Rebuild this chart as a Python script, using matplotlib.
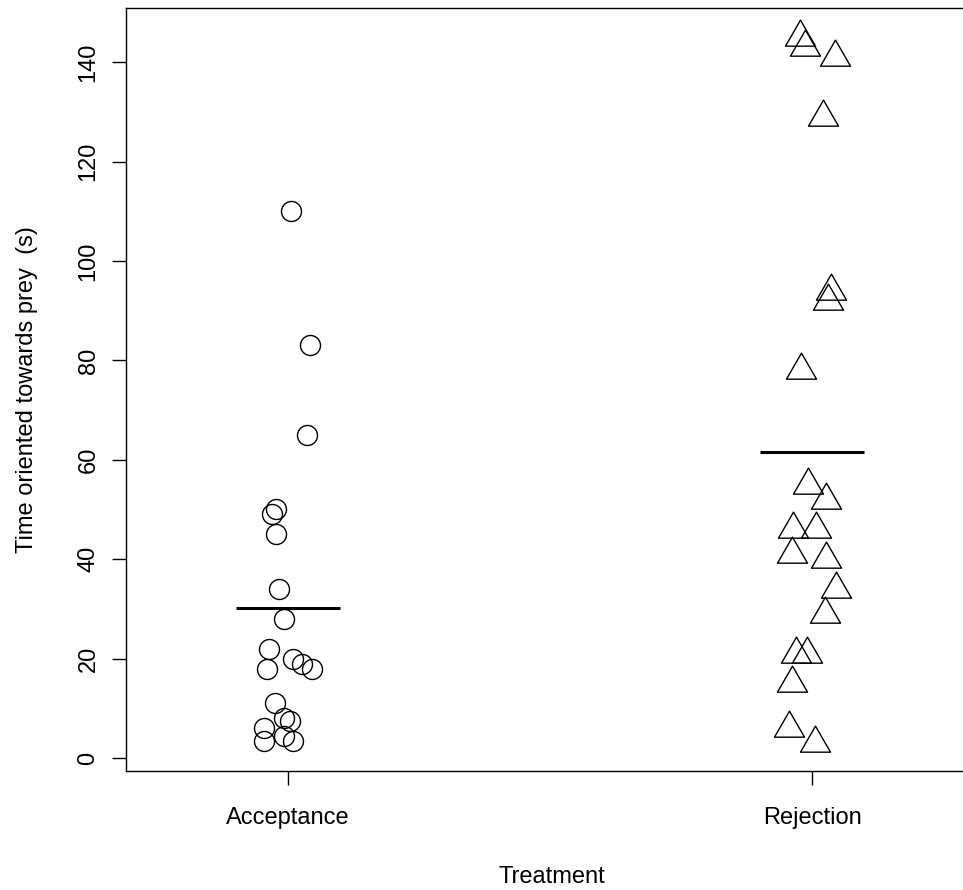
import numpy as np
import matplotlib
matplotlib.use("Agg")
import matplotlib.pyplot as plt
from matplotlib.path import Path

plt.rcParams['font.family'] = ['Liberation Sans', 'DejaVu Sans']

categories = ["Acceptance", "Rejection"]

acceptance = [110, 83, 65, 50, 49, 45, 34, 28, 22, 20, 19, 18, 18, 11, 8, 7.5, 6, 4.4, 3.4, 3.4]
acceptance_jitter = [0.005, 0.041, 0.037, -0.022, -0.030, -0.022, -0.018, -0.007, -0.037, 0.009,
                     0.026, -0.041, 0.045, -0.024, -0.007, 0.004, -0.045, -0.008, -0.045, 0.010]

rejection = [145, 143, 141, 129, 94, 92, 78, 55, 52, 46, 46, 41, 40, 34, 29, 21, 21, 15, 6, 3]
rejection_jitter = [-0.023, -0.014, 0.043, 0.021, 0.037, 0.031, -0.021, -0.008, 0.027, -0.037,
                    0.007, -0.039, 0.026, 0.045, 0.024, -0.030, -0.010, -0.038, -0.043, 0.006]

yticks = [0, 20, 40, 60, 80, 100, 120, 140]

fig = plt.figure(figsize=(9.63, 8.90), dpi=100)
ax = fig.add_axes([126/963, 119/890, (963-126)/963 + 0.002, (771-8)/890])

# R-style triangle (pch=2) centred on its centroid
tri = Path([(0, 1), (-0.8660254, -0.5), (0.8660254, -0.5), (0, 1)],
           [Path.MOVETO, Path.LINETO, Path.LINETO, Path.CLOSEPOLY])

xa = 1 + np.array(acceptance_jitter)
xr = 2 + np.array(rejection_jitter)
ax.plot(xa, acceptance, linestyle='none', marker='o', markersize=14.4,
        markerfacecolor='none', markeredgecolor='black', markeredgewidth=1.0)
ax.plot(xr, rejection, linestyle='none', marker=tri, markersize=25,
        markerfacecolor='none', markeredgecolor='black', markeredgewidth=1.0)

means = [np.mean(acceptance), np.mean(rejection)]
for i, m in enumerate(means):
    ax.plot([i + 1 - 0.1, i + 1 + 0.1], [m, m], color='black', linewidth=2.2, solid_capstyle='butt')

ax.set_xlim(0.6908, 2.2918)
ax.set_ylim(-2.62, 150.9)
ax.set_xticks([1, 2])
ax.set_xticklabels(categories, fontsize=17)
ax.set_yticks(yticks)
ax.set_yticklabels([str(v) for v in yticks], fontsize=17, rotation=90, va='center')
ax.tick_params(axis='both', direction='out', length=10, width=1.0, color='black')
ax.tick_params(axis='x', pad=16)
ax.tick_params(axis='y', pad=9)
for s in ax.spines.values():
    s.set_linewidth(1.0)
    s.set_color('black')

fig.text(27/963, 1 - 390/890, "Time oriented towards prey  (s)", rotation=90,
         ha='center', va='center', fontsize=17)
fig.text(552/963, 1 - 877/890, "Treatment", ha='center', va='center', fontsize=17)

fig.savefig("out.png", dpi=100)
